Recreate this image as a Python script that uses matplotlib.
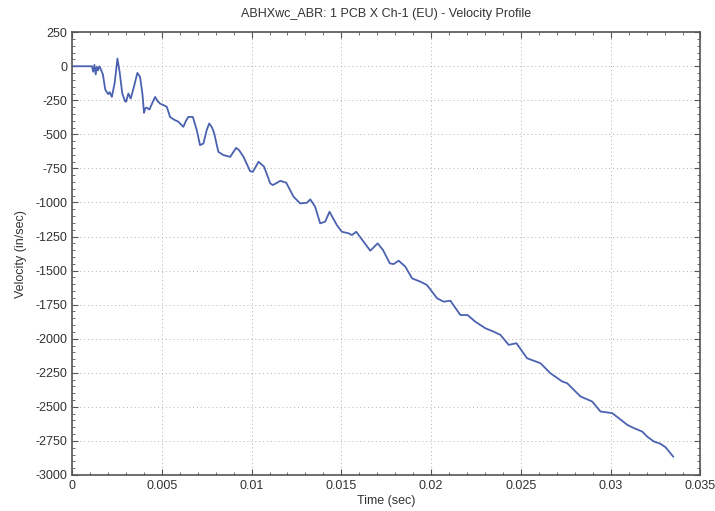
import numpy as np
import matplotlib
matplotlib.use("Agg")
import matplotlib.pyplot as plt
from matplotlib.ticker import MultipleLocator

# velocity trace (time in sec, velocity in in/sec)
time_s = [0.0, 0.00111, 0.00118, 0.00125, 0.00132, 0.00138, 0.00145, 0.00152,
          0.00160, 0.00172, 0.00185, 0.00193, 0.00202, 0.00210, 0.00222,
          0.00238, 0.00253, 0.00265, 0.00280, 0.00295, 0.00301, 0.00314,
          0.00327, 0.00345, 0.00364, 0.00379, 0.00392, 0.00401, 0.00408,
          0.00416, 0.00431, 0.00447, 0.00463, 0.00476, 0.00490, 0.00510,
          0.00528, 0.00546, 0.00560, 0.00574, 0.00590, 0.00602, 0.00620,
          0.00635, 0.00648, 0.00673, 0.00695, 0.00713, 0.00732, 0.00750,
          0.00764, 0.00780, 0.00792, 0.00815, 0.00843, 0.00881, 0.00914,
          0.00930, 0.00955, 0.00992, 0.01007, 0.01039, 0.01070, 0.01104,
          0.01119, 0.01160, 0.01193, 0.01234, 0.01271, 0.01308, 0.01327,
          0.01354, 0.01382, 0.01410, 0.01434, 0.01475, 0.01503, 0.01540,
          0.01559, 0.01583, 0.01624, 0.01661, 0.01702, 0.01732, 0.01770,
          0.01791, 0.01819, 0.01856, 0.01894, 0.01940, 0.01977, 0.02033,
          0.02070, 0.02107, 0.02163, 0.02203, 0.02246, 0.02302, 0.02348,
          0.02386, 0.02432, 0.02475, 0.02534, 0.02609, 0.02664, 0.02730,
          0.02757, 0.02832, 0.02897, 0.02943, 0.03008, 0.03045, 0.03092,
          0.03129, 0.03175, 0.03203, 0.03240, 0.03277, 0.03305, 0.03348]
velocity = [0, 0, -40, 10, -60, -5, -30, 0,
            -20, -60, -170, -188, -205, -190, -225,
            -120, 56, -40, -200, -255, -261, -200,
            -237, -150, -49, -78, -200, -342, -310,
            -303, -318, -270, -225, -255, -274, -285,
            -298, -372, -385, -396, -405, -420, -445,
            -400, -372, -372, -470, -579, -567, -470,
            -420, -450, -493, -628, -652, -665, -599,
            -615, -665, -770, -775, -701, -738, -860,
            -872, -841, -855, -958, -1007, -1002, -977,
            -1031, -1153, -1141, -1068, -1166, -1215, -1226,
            -1239, -1215, -1288, -1354, -1300, -1349, -1447,
            -1452, -1427, -1471, -1557, -1581, -1606, -1703,
            -1728, -1721, -1826, -1826, -1875, -1923, -1948,
            -1972, -2045, -2033, -2143, -2180, -2253, -2314,
            -2326, -2424, -2461, -2534, -2546, -2583, -2632,
            -2656, -2681, -2718, -2754, -2771, -2796, -2865]
x_labels = ["0", "0.005", "0.01", "0.015", "0.02", "0.025", "0.03", "0.035"]

plt.rcParams['font.family'] = ['Liberation Sans', 'DejaVu Sans']
plt.rcParams['axes.unicode_minus'] = False

fig = plt.figure(figsize=(7.15, 5.11), dpi=100)
ax = fig.add_axes([0.1007, 0.0705, 0.879, 0.8665])

ax.plot(time_s, velocity, color="#4a62b0", lw=1.3)

ax.set_xlim(0, 0.035)
ax.set_ylim(-3000, 250)
ax.xaxis.set_minor_locator(MultipleLocator(0.001))
ax.yaxis.set_major_locator(MultipleLocator(250))
ax.yaxis.set_minor_locator(MultipleLocator(50))
ax.set_xticks(np.arange(len(x_labels)) * 0.005)
ax.set_xticklabels(x_labels)
ax.tick_params(which="both", direction="in", top=True, right=True,
               colors="#555555", labelcolor="#333333", labelsize=9)
ax.tick_params(which="major", length=4)
ax.tick_params(which="minor", length=2)
for s in ax.spines.values():
    s.set_color("#555555")
    s.set_linewidth(1.2)

ax.grid(True, which="major", ls=(0, (1, 3)), color="#b0b0b0", lw=0.7)

ax.set_xlabel("Time (sec)", fontsize=9, color="#333333", labelpad=2)
ax.set_ylabel("Velocity (in/sec)", fontsize=9, color="#333333", labelpad=6)
ax.set_title("ABHXwc_ABR: 1 PCB X Ch-1 (EU) - Velocity Profile",
             fontsize=9, color="#333333", pad=11)

fig.savefig("out.png", dpi=100)
